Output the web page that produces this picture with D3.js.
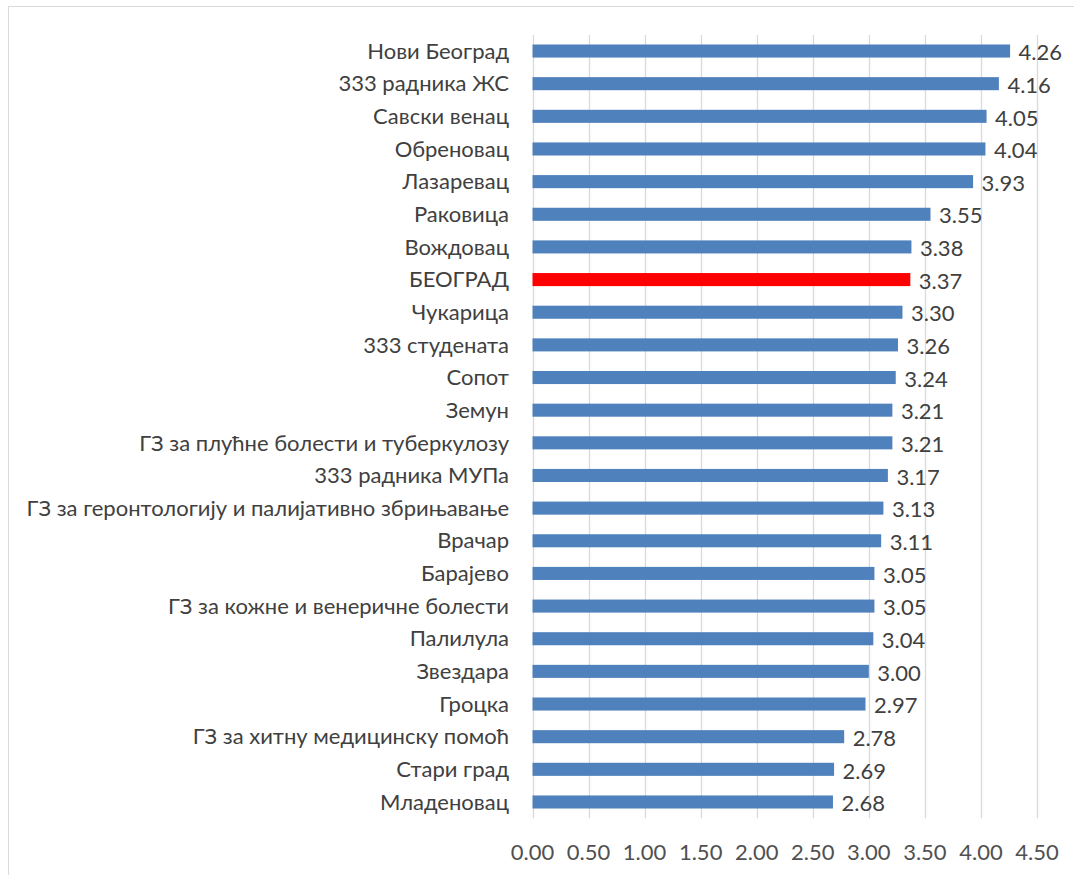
<!DOCTYPE html>
<html>
<head>
<meta charset="utf-8">
<script src="https://cdn.jsdelivr.net/npm/d3@7"></script>
<style>
  html, body { margin: 0; padding: 0; background: #fff; }
  svg { display: block; }
  text { font-family: Lato, "Noto Sans", sans-serif; fill: #404040; }
</style>
</head>
<body>
<svg id="chart" width="1074" height="875"></svg>
<script>
const categories = [
  "Нови Београд", "333 радника ЖС", "Савски венац", "Обреновац", "Лазаревац",
  "Раковица", "Вождовац", "БЕОГРАД", "Чукарица", "333 студената", "Сопот", "Земун",
  "ГЗ за плућне болести и туберкулозу", "333 радника МУПа",
  "ГЗ за геронтологију и палијативно збрињавање", "Врачар", "Барајево",
  "ГЗ за кожне и венеричне болести", "Палилула", "Звездара", "Гроцка",
  "ГЗ за хитну медицинску помоћ", "Стари град", "Младеновац"
];
const values = [4.26, 4.16, 4.05, 4.04, 3.93, 3.55, 3.38, 3.37, 3.30, 3.26, 3.24, 3.21,
  3.21, 3.17, 3.13, 3.11, 3.05, 3.05, 3.04, 3.00, 2.97, 2.78, 2.69, 2.68];
const highlight = "БЕОГРАД";
const xTicks = [0, 0.5, 1, 1.5, 2, 2.5, 3, 3.5, 4, 4.5];

const svg = d3.select("#chart");

// outer chart border
svg.append("rect").attr("x", 8.5).attr("y", 6.5).attr("width", 1080).attr("height", 900)
  .attr("fill", "none").attr("stroke", "#D9D9D9").attr("stroke-width", 1);

const plot = { left: 532.5, right: 1037, top: 34.7, bottom: 818.3 };

const x = d3.scaleLinear().domain([0, 4.5]).range([plot.left, plot.right]);
const y = d3.scaleBand().domain(categories).range([plot.top, plot.bottom])
  .paddingInner(0.6).paddingOuter(0.3);

// gridlines
svg.append("g").selectAll("line").data(xTicks).join("line")
  .attr("x1", d => Math.round(x(d)) + 0.5).attr("x2", d => Math.round(x(d)) + 0.5)
  .attr("y1", plot.top).attr("y2", plot.bottom)
  .attr("stroke", "#D9D9D9").attr("stroke-width", 1.3);

// bars
svg.append("g").selectAll("rect").data(categories).join("rect")
  .attr("x", x(0))
  .attr("y", d => y(d))
  .attr("width", (d, i) => x(values[i]) - x(0))
  .attr("height", y.bandwidth())
  .attr("fill", d => d === highlight ? "#FF0000" : "#4F81BD");

// value labels
svg.append("g").selectAll("text").data(categories).join("text")
  .attr("x", (d, i) => x(values[i]) + 8.5)
  .attr("y", d => y(d) + y.bandwidth() / 2 + 1.5)
  .attr("dy", "0.35em")
  .attr("font-size", 22)
  .text((d, i) => values[i].toFixed(2));

// category axis labels
svg.append("g").selectAll("text").data(categories).join("text")
  .attr("x", 509)
  .attr("y", d => y(d) + y.bandwidth() / 2)
  .attr("dy", "0.35em")
  .attr("text-anchor", "end")
  .attr("font-size", 22)
  .text(d => d);

// x axis tick labels
svg.append("g").selectAll("text").data(xTicks).join("text")
  .attr("x", d => x(d))
  .attr("y", 852)
  .attr("dy", "0.35em")
  .attr("text-anchor", "middle")
  .attr("font-size", 22)
  .attr("fill", "#505050")
  .style("fill", "#505050")
  .text(d => d.toFixed(2));
</script>
</body>
</html>
